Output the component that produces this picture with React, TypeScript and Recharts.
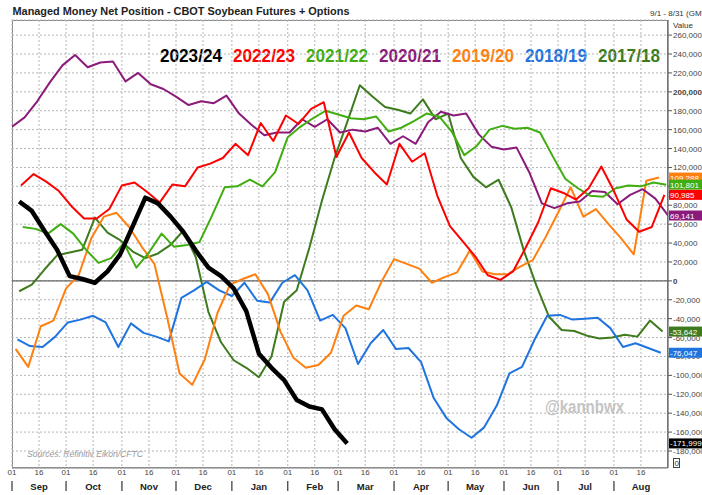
import React from 'react';
import { LineChart, Line, XAxis, YAxis, CartesianGrid, ReferenceLine, LabelList } from 'recharts';

// weekly CFTC readings, first value at the given day (days since Sep 1)
const MONTHS = ['Sep', 'Oct', 'Nov', 'Dec', 'Jan', 'Feb', 'Mar', 'Apr', 'May', 'Jun', 'Jul', 'Aug'];
const MONTH_LEN = [30, 31, 30, 31, 31, 28, 31, 30, 31, 30, 31, 31];

const Y_TICKS = [
  -180000, -160000, -140000, -120000, -100000, -80000, -60000, -40000, -20000, 0,
  20000, 40000, 60000, 80000, 100000, 120000, 140000, 160000, 180000, 200000, 220000, 240000, 260000,
];

const START_2324 = 4;
const V_2324 = [84000, 74000, 53000, 33000, 5000, 2000, -2000, 10000, 28000, 58000, 88000, 82000, 68000, 52000,
  32000, 14000, 5000, -8000, -32000, -77000, -92000, -105000, -126000, -133000, -136000, -157000, -171999];

const START_2223 = 5;
const V_2223 = [101000, 113000, 105000, 95000, 79000, 66000, 66000, 76000, 101000, 104000, 94000, 83000, 102000,
  100000, 120000, 124000, 130000, 145000, 133000, 167000, 148000, 175000, 166000, 182000, 189000, 131000, 157000,
  130000, 115000, 102000, 145000, 126000, 135000, 90000, 58000, 42000, 26000, 6000, 1000, 10000, 35000, 62000,
  98000, 93000, 86000, 98000, 121000, 95000, 65000, 52000, 57000, 90985];

const START_2122 = 6;
const V_2122 = [57000, 55000, 50000, 60000, 50000, 33000, 19000, 24000, 40000, 14000, 30000, 50000, 36000, 38000,
  41000, 69000, 99000, 100000, 107000, 100000, 115000, 152000, 163000, 172000, 180000, 176000, 172000, 171000,
  174000, 158000, 162000, 169000, 177000, 174000, 158000, 133000, 143000, 160000, 164000, 161000, 162000, 157000,
  132000, 108000, 98000, 90000, 89000, 98000, 101000, 100000, 104000, 101801];

const START_2021 = 0;
const V_2021 = [163000, 173000, 190000, 210000, 228000, 239000, 226000, 231000, 232000, 211000, 220000, 208000,
  203000, 195000, 186000, 190000, 188000, 196000, 177000, 165000, 154000, 157000, 157000, 171000, 163000, 171000,
  157000, 160000, 158000, 162000, 145000, 153000, 145000, 168000, 179000, 175000, 177000, 155000, 142000, 139000,
  141000, 115000, 82000, 77000, 82000, 84000, 95000, 94000, 81000, 91000, 97000, 87000, 69141];

const START_1920 = 2;
const V_1920 = [-72000, -91000, -48000, -42000, -8000, 6000, 45000, 68000, 72000, 57000, 36000, 18000, -38000,
  -98000, -110000, -83000, -34000, -4000, 2000, 7000, -14000, -54000, -81000, -92000, -89000, -76000, -37000,
  -26000, -30000, -1000, 23000, 18000, 13000, -2000, 4000, 9000, 32000, 10000, 7000, 7000, 15000, 22000, 46000,
  72000, 99000, 68000, 76000, 60000, 45000, 28000, 106000, 109288];

const START_1819 = 3;
const V_1819 = [-62000, -69000, -70000, -59000, -44000, -41000, -37000, -44000, -70000, -45000, -55000, -59000,
  -64000, -18000, -10000, -1000, -10000, -16000, -2000, -21000, -23000, -2000, 6000, -10000, -42000, -36000, -50000,
  -88000, -66000, -52000, -72000, -71000, -86000, -124000, -145000, -157000, -166000, -155000, -132000, -98000,
  -91000, -62000, -37000, -36000, -41000, -40000, -39000, -50000, -70000, -66000, -71000, -76047];

const START_1718 = 4;
const V_1718 = [-11000, -4000, 12000, 27000, 30000, 33000, 67000, 51000, 43000, 31000, 24000, 29000, 38000, 53000,
  25000, -33000, -65000, -84000, -92000, -102000, -80000, -22000, -10000, 35000, 85000, 130000, 168000, 207000,
  195000, 184000, 181000, 177000, 192000, 171000, 177000, 130000, 110000, 99000, 107000, 78000, 32000, -5000,
  -38000, -52000, -53000, -58000, -61000, -60000, -57000, -59000, -42000, -53642];

const weekly = (start: number, vals: number[]) => vals.map((v, i) => ({ day: start + i * 7, v }));

const SERIES = [
  { name: '2017/18', color: '#3e7b1e', width: 2, data: weekly(START_1718, V_1718) },
  { name: '2018/19', color: '#1f74e0', width: 2, data: weekly(START_1819, V_1819) },
  { name: '2019/20', color: '#ff8010', width: 2, data: weekly(START_1920, V_1920) },
  { name: '2020/21', color: '#8b1b7b', width: 2, data: weekly(START_2021, V_2021) },
  { name: '2021/22', color: '#40ad10', width: 2, data: weekly(START_2122, V_2122) },
  { name: '2022/23', color: '#ff0000', width: 2, data: weekly(START_2223, V_2223) },
  { name: '2023/24', color: '#000000', width: 4.5, data: weekly(START_2324, V_2324) },
];

const LEGEND_ORDER = ['2023/24', '2022/23', '2021/22', '2020/21', '2019/20', '2018/19', '2017/18'];

// tick days: 1st and 16th of each month
const X_TICKS: number[] = [];
let acc = 0;
MONTH_LEN.forEach((len) => {
  X_TICKS.push(acc, acc + 15);
  acc += len;
});

const AXIS_X = 668;
const fmt = (v: number) => v.toLocaleString('en-US');

const XTick = (props: any) => {
  const { x, y, payload } = props;
  const idx = X_TICKS.indexOf(payload.value);
  const mid = idx % 2 === 1;
  return (
    <g>
      <text x={x} y={y + 7} textAnchor="middle" fontSize={8} fill="#444">{mid ? '16' : '01'}</text>
      {mid ? (
        <text x={x} y={y + 22} textAnchor="middle" fontSize={9.5} fontWeight="bold" fill="#222">
          {MONTHS[(idx - 1) / 2]}
        </text>
      ) : (
        <line x1={x} x2={x} y1={y + 13} y2={y + 23} stroke="#444" strokeWidth={1.3} />
      )}
    </g>
  );
};

const YTick = (props: any) => {
  const { x, y, payload } = props;
  const v = payload.value;
  const bold = v === 200000 || v === 0;
  return (
    <text x={x} y={y + 3} fontSize={8} fill="#444" fontWeight={bold ? 'bold' : 'normal'}>
      {fmt(v)}
    </text>
  );
};

const endLabel = (color: string, count: number) => (p: any) => {
  if (p.index !== count - 1) return null;
  const y = Number(p.y);
  return (
    <g>
      <rect x={AXIS_X + 1} y={y - 5} width={33} height={10} fill={color} />
      <text x={AXIS_X + 2} y={y + 3} fontSize={8} fill="#fff">{fmt(Number(p.value))}</text>
    </g>
  );
};

export default function App() {
  const colorOf = (n: string) => SERIES.find((s) => s.name === n)!.color;
  return (
    <div style={{ position: 'absolute', left: 0, top: 0, width: 702, height: 495, background: '#fff',
      fontFamily: '"Liberation Sans", Arial, sans-serif', overflow: 'hidden' }}>
      <svg width={702} height={495} style={{ position: 'absolute', left: 0, top: 0 }}>
        <text x={12.5} y={15} fontSize={11.5} fontWeight="bold" fill="#222" textLength={337} lengthAdjust="spacingAndGlyphs">
          Managed Money Net Position - CBOT Soybean Futures + Options
        </text>
        <text x={650} y={16} fontSize={8} fill="#333">9/1 - 8/31 (GMT)</text>
        <text x={673} y={28} fontSize={8} fill="#333">Value</text>
        {LEGEND_ORDER.map((n, i) => (
          <text key={n} x={160 + i * 73} y={61.5} fontSize={18.5} fontWeight="bold" fill={colorOf(n)}
            textLength={62} lengthAdjust="spacingAndGlyphs">{n}</text>
        ))}
        <text x={545} y={413} fontSize={18} fontWeight="bold" fill="#c4c4c4" textLength={79} lengthAdjust="spacingAndGlyphs">
          @kannbwx
        </text>
        <text x={27} y={457} fontSize={9} fontStyle="italic" fill="#999" textLength={116} lengthAdjust="spacingAndGlyphs">
          Sources: Refinitiv Eikon/CFTC
        </text>
        <rect x={673.5} y={458.5} width={6} height={9} fill="none" stroke="#444" />
        <text x={674.5} y={466} fontSize={8} fill="#333">0</text>
        <rect x={12.5} y={20.5} width={655} height={447} fill="none" stroke="#888" />
      </svg>
      <div style={{ position: 'absolute', left: 0, top: 0 }}>
        <LineChart width={702} height={495} margin={{ top: 20, right: 0, bottom: 0, left: 12 }}>
          <CartesianGrid stroke="#b5b5b5" strokeDasharray="2 2" />
          <XAxis dataKey="day" type="number" domain={[0, 364]} ticks={X_TICKS} interval={0} height={27}
            tick={<XTick />} tickSize={0} tickMargin={0} axisLine={{ stroke: '#888' }} allowDataOverflow />
          <YAxis orientation="right" type="number" domain={[-198000, 276000]} ticks={Y_TICKS} interval={0}
            width={34} tick={<YTick />} tickSize={4} tickMargin={1} axisLine={{ stroke: '#555' }}
            tickLine={{ stroke: '#555' }} allowDataOverflow />
          <ReferenceLine y={0} stroke="#666" strokeWidth={1.2} />
          {SERIES.map((s) => (
            <Line key={s.name} data={s.data} dataKey="v" type="linear" stroke={s.color} strokeWidth={s.width}
              strokeLinejoin="round" dot={false} isAnimationActive={false}>
              <LabelList dataKey="v" content={endLabel(s.color, s.data.length)} />
            </Line>
          ))}
        </LineChart>
      </div>
    </div>
  );
}
